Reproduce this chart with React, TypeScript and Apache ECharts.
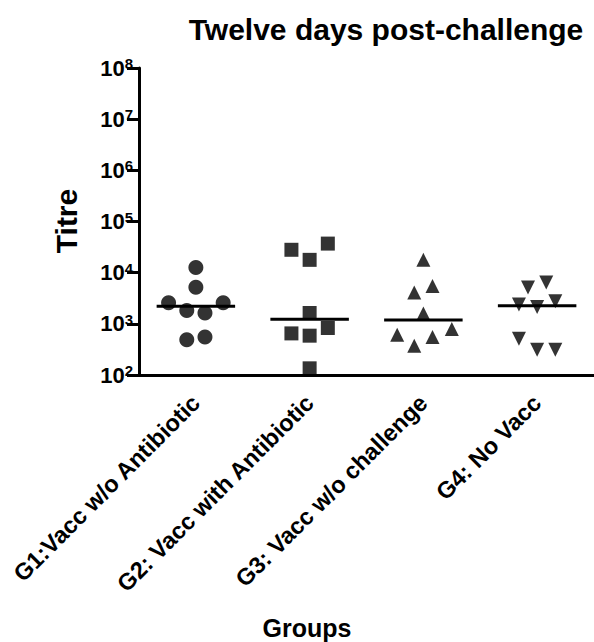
import React, { useEffect, useRef } from "react";
import * as echarts from "echarts";

const FONT = "'Liberation Sans', Arial, Helvetica, sans-serif";

const groups = [
  "G1:Vacc w/o Antibiotic",
  "G2: Vacc with Antibiotic",
  "G3: Vacc w/o challenge",
  "G4: No Vacc",
];

// Titre values per group
const g1Values = [12600, 5200, 2580, 2580, 1820, 1630, 490, 553];
const g2Values = [28000, 17800, 37000, 1630, 650, 587, 830, 135];
const g3Values = [17800, 4090, 5470, 1590, 614, 372, 553, 794];
const g4Values = [5130, 6460, 2390, 2140, 2770, 512, 310, 310];

// horizontal scatter offsets (in category units) as drawn
const g1Offsets = [0, 0, -0.24, 0.24, -0.08, 0.08, -0.08, 0.08];
const g2Offsets = [-0.16, 0, 0.16, 0, -0.16, 0, 0.16, 0];
const g3Offsets = [0, -0.08, 0.08, 0, -0.23, -0.08, 0.08, 0.25];
const g4Offsets = [-0.08, 0.08, -0.16, 0, 0.16, -0.16, 0, 0.16];

const groupValues = [g1Values, g2Values, g3Values, g4Values];
const groupOffsets = [g1Offsets, g2Offsets, g3Offsets, g4Offsets];
const symbols = ["circle", "rect", "triangle", "triangle"];
const symbolRotations = [0, 0, 0, 180];

const yMin = 100;
const yMax = 1e8;

function median(arr: number[]) {
  const s = [...arr].sort((a, b) => a - b);
  const n = s.length;
  return n % 2 ? s[(n - 1) / 2] : (s[n / 2 - 1] + s[n / 2]) / 2;
}

export default function App() {
  const ref = useRef<HTMLDivElement>(null);
  useEffect(() => {
    if (!ref.current) return;
    const chart = echarts.init(ref.current, undefined, { renderer: "svg" });

    const scatterSeries = groupValues.map((vals, gi) => ({
      type: "scatter",
      xAxisIndex: 1,
      yAxisIndex: 0,
      symbol: symbols[gi],
      symbolSize: gi === 0 ? 15 : 14,
      symbolRotate: symbolRotations[gi],
      itemStyle: { color: "#000" },
      data: vals.map((v, i) => [gi + groupOffsets[gi][i], v]),
      z: 3,
    }));

    const medianSeries = groupValues.map((vals, gi) => {
      const m = median(vals);
      return {
        type: "line",
        xAxisIndex: 1,
        yAxisIndex: 0,
        symbol: "none",
        lineStyle: { color: "#000", width: 3 },
        data: [
          [gi - 0.345, m],
          [gi + 0.345, m],
        ],
        z: 2,
      };
    });

    chart.setOption({
      animation: false,
      backgroundColor: "#fff",
      title: [
        {
          text: "Twelve days post-challenge",
          left: 381,
          top: 9,
          textAlign: "center",
          textStyle: { fontSize: 30, fontWeight: "bold", fontFamily: FONT, color: "#000" },
        },
        {
          text: "Groups",
          left: 302,
          top: 610,
          textAlign: "center",
          textStyle: { fontSize: 25, fontWeight: "bold", fontFamily: FONT, color: "#000" },
        },
      ],
      graphic: [
        {
          type: "text",
          x: 66,
          y: 221,
          rotation: Math.PI / 2,
          style: {
            text: "Titre",
            fontSize: 30,
            fontWeight: "bold",
            fontFamily: FONT,
            fill: "#000",
            align: "center",
            verticalAlign: "middle",
          },
        },
      ],
      grid: { left: 139, top: 68, width: 461, height: 307, containLabel: false },
      xAxis: [
        {
          type: "category",
          data: groups,
          position: "bottom",
          boundaryGap: true,
          axisLine: { lineStyle: { color: "#000", width: 3 } },
          axisTick: { alignWithLabel: true, length: 7, lineStyle: { color: "#000", width: 3 } },
          axisLabel: {
            interval: 0,
            rotate: 45,
            margin: 24,
            fontSize: 23.5,
            fontWeight: "bold",
            fontFamily: FONT,
            color: "#000",
          },
          splitLine: { show: false },
        },
        {
          type: "value",
          position: "top",
          min: -0.5,
          max: 3.5,
          show: false,
        },
      ],
      yAxis: {
        type: "log",
        logBase: 10,
        min: yMin,
        max: yMax,
        splitNumber: 6,
        axisLine: { show: true, onZero: false, lineStyle: { color: "#000", width: 3 } },
        axisTick: { show: true, length: 12, lineStyle: { color: "#000", width: 3 } },
        splitLine: { show: false },
        axisLabel: {
          margin: 6,
          formatter: (v: number) => `{b|10}{s|${Math.round(Math.log10(v))}}`,
          rich: {
            b: { fontSize: 22, fontWeight: "bold", fontFamily: FONT, color: "#000", lineHeight: 24 },
            s: {
              fontSize: 15,
              fontWeight: "bold",
              fontFamily: FONT,
              color: "#000",
              verticalAlign: "top",
              lineHeight: 15,
            },
          },
        },
      },
      series: [...medianSeries, ...scatterSeries],
    });
    return () => chart.dispose();
  }, []);
  return (
    <div
      ref={ref}
      style={{ position: "absolute", left: 0, top: 0, width: 594, height: 642 }}
    />
  );
}
